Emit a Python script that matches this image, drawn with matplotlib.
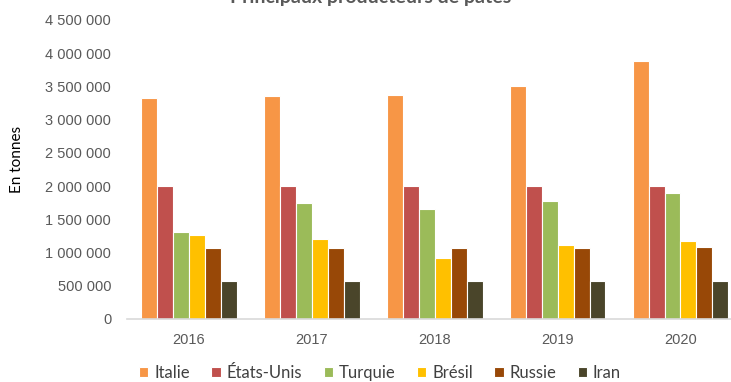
import numpy as np
import matplotlib
matplotlib.use("Agg")
import matplotlib.pyplot as plt
from matplotlib.ticker import FuncFormatter

# Pasta production by country (tonnes)
years = ["2016", "2017", "2018", "2019", "2020"]
countries = ["Italie", "États-Unis", "Turquie", "Brésil", "Russie", "Iran"]
italie = [3320000, 3350000, 3370000, 3500000, 3880000]
etats_unis = [2000000, 2000000, 2000000, 2000000, 2000000]
turquie = [1310000, 1750000, 1655000, 1776000, 1900000]
bresil = [1260000, 1200000, 910000, 1110000, 1170000]
russie = [1070000, 1070000, 1070000, 1070000, 1090000]
iran = [570000, 570000, 570000, 570000, 570000]
series = [italie, etats_unis, turquie, bresil, russie, iran]
colors = ["#F79646", "#C0504D", "#9BBB59", "#FFC000", "#984807", "#4A452A"]

fig = plt.figure(figsize=(7.31, 3.82), dpi=100)
ax = fig.add_axes([0.174, 0.165, 0.841, 0.783])

x = np.arange(len(years))
step = 0.13
for i, (vals, col, name) in enumerate(zip(series, colors, countries)):
    offs = (i - 2.5) * step
    ax.bar(x + offs, vals, width=step, color=col, edgecolor="white",
           linewidth=0.8, label=name)

ax.set_xlim(-0.5, len(years) - 0.5)
ax.set_ylim(0, 4500000)
ax.set_yticks(np.arange(0, 4500001, 500000))
ax.yaxis.set_major_formatter(
    FuncFormatter(lambda v, p: f"{int(v):,}".replace(",", " ")))
ax.set_xticks(x)
ax.set_xticklabels(years)

for s in ["top", "right", "left"]:
    ax.spines[s].set_visible(False)
ax.spines["bottom"].set_color("#D9D9D9")
ax.spines["bottom"].set_linewidth(1.2)
ax.tick_params(axis="y", length=0, pad=11.5, labelsize=10.5, labelcolor="#595959")
ax.tick_params(axis="x", length=0, pad=10, labelsize=10.5, labelcolor="#595959")
for lab in ax.get_yticklabels() + ax.get_xticklabels():
    lab.set_family("Liberation Sans")

fig.text(17 / 731, 1 - 159 / 382, "En tonnes", rotation=90, ha="center",
         va="center", fontsize=11, family="Lato", color="black")
# chart title sits at the very top edge
fig.text(0.507, 1 - 3 / 382, "Principaux producteurs de pâtes", ha="center",
         va="baseline", fontsize=14, fontweight="bold", color="#595959",
         family="Lato")

leg = ax.legend(loc="center", bbox_to_anchor=(0.52, 0.024),
                bbox_transform=fig.transFigure, ncol=6, frameon=False,
                handlelength=0.55, handleheight=0.55, handletextpad=0.35,
                columnspacing=1.3, prop={"family": "Lato", "size": 12})
for t in leg.get_texts():
    t.set_color("#404040")

fig.savefig("out.png", dpi=100)
